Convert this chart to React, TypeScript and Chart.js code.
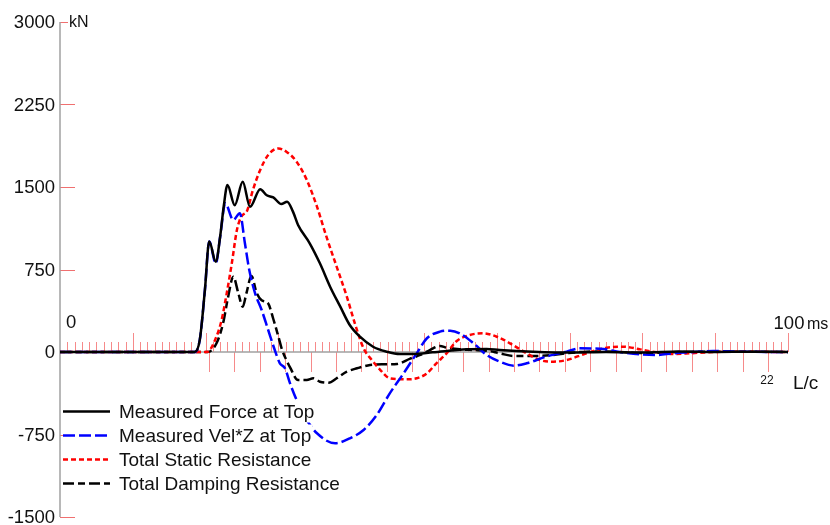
import { useEffect, useRef } from "react";
import { Chart, registerables } from "chart.js";

Chart.register(...registerables);

// ---- data (time in ms, force in kN) ----
const forceT = [0, 18.5, 19.2, 19.9, 20.5, 21.4, 22.0, 22.5, 23.0, 24.0, 25.1, 26.1, 27.5, 28.4, 29.3, 30.4, 31.2, 32.0, 32.7, 34.3, 35.7, 37.1, 38.5, 39.8, 41.2, 43.0, 44.9, 46.7, 48.5, 51.2, 55.9, 58.6, 60.4, 65.0, 70, 75, 80, 85, 90, 95, 100];
const forceV = [0, 0, 110, 560, 1005, 820, 1050, 1330, 1518, 1335, 1548, 1320, 1480, 1425, 1405, 1345, 1367, 1276, 1155, 988, 806, 594, 412, 245, 139, 48, 3, -18, -18, -3, 24, 27, 18, 3, -5, 0, -5, 5, 0, 3, 0];

const velT = [0, 18.5, 19.2, 19.9, 20.5, 21.4, 22.0, 22.7, 23.8, 24.7, 25.4, 26.0, 26.8, 27.7, 28.6, 29.5, 30.2, 30.9, 31.6, 32.5, 33.9, 35.3, 37.8, 39.8, 41.7, 43.5, 45.3, 47.2, 49.0, 50.4, 52.2, 53.6, 54.9, 56.8, 58.6, 60.4, 62.3, 64.1, 66.8, 69.6, 71.4, 74.2, 76.9, 79.7, 82.0, 84.2, 86.5, 89.7, 93.4, 100];
const velV = [0, 0, 110, 560, 1005, 806, 1048, 1352, 1200, 1261, 988, 745, 533, 382, 200, 18, -103, -148, -285, -436, -618, -739, -830, -785, -709, -573, -376, -194, -12, 125, 185, 194, 170, 79, -27, -88, -124, -103, -42, 3, 33, 30, 0, -21, -27, -12, -3, 9, 3, 0];

const staticT = [0, 20.2, 21.3, 22.2, 22.9, 23.6, 24.3, 24.9, 25.7, 26.5, 27.5, 28.6, 30.0, 31.1, 32.5, 33.9, 35.3, 36.6, 38.0, 39.4, 40.5, 41.7, 42.8, 44.0, 45.3, 47.6, 49.0, 50.4, 51.7, 53.1, 54.5, 56.3, 58.1, 60.0, 61.8, 64.1, 65.9, 67.8, 69.6, 72.3, 75.1, 77.4, 79.7, 81.9, 84.2, 86.5, 88.8, 91.5, 100];
const staticV = [0, 0, 109, 291, 533, 806, 1109, 1230, 1285, 1473, 1655, 1791, 1850, 1821, 1730, 1564, 1321, 1048, 776, 503, 261, 33, -70, -164, -239, -248, -239, -194, -103, -12, 100, 155, 170, 139, 79, -12, -73, -88, -73, -12, 39, 48, 24, -3, -18, -12, -3, 3, 0];

const dampT = [0, 20.3, 21.5, 22.4, 23.1, 23.8, 24.5, 25.1, 25.6, 26.3, 27.0, 27.7, 28.6, 29.3, 30.0, 30.5, 31.1, 31.6, 32.7, 33.9, 34.8, 35.7, 36.9, 38.0, 39.4, 40.8, 42.6, 44.4, 46.3, 48.1, 49.5, 50.8, 52.2, 53.1, 54.9, 56.8, 58.6, 60.4, 62.3, 65.0, 67.8, 69.6, 72.3, 75, 80, 85, 90, 100];
const dampV = [0, 0, 79, 261, 503, 685, 533, 412, 533, 690, 540, 470, 440, 300, 140, 20, -73, -140, -255, -255, -239, -270, -279, -239, -179, -148, -118, -112, -109, -60, -27, 18, 55, 40, 24, 18, 12, -12, -36, -36, -27, -12, 3, 5, -9, 0, 3, 0];

const seriesNames = ["Measured Force at Top", "Measured Vel*Z at Top", "Total Static Resistance", "Total Damping Resistance"];

const yTicks = [3000, 2250, 1500, 750, 0, -750, -1500];
const yTickLabels = ["3000", "2250", "1500", "750", "0", "-750", "-1500"];
const xMin = 0;
const xMax = 100;
const yMin = -1500;
const yMax = 3000;
const msTickStep = 1;
const msMajorStep = 10;
const lcStart = 20.47;
const lcStep = 3.49;
const lcLast = 22;

const FONT = "'Liberation Sans', Arial, sans-serif";

function pts(t: number[], v: number[]) {
  return t.map((x, i) => ({ x, y: v[i] }));
}

const decor = {
  id: "decor",
  beforeDatasetsDraw(chart: any) {
    const ctx = chart.ctx as CanvasRenderingContext2D;
    const xs = chart.scales.x;
    const ys = chart.scales.y;
    const x0 = xs.getPixelForValue(xMin);
    const y0 = ys.getPixelForValue(0);
    ctx.save();
    // ms ticks above the axis
    ctx.strokeStyle = "rgba(240,60,60,0.6)";
    ctx.lineWidth = 1;
    for (let ms = msTickStep; ms <= xMax; ms += msTickStep) {
      const x = Math.round(xs.getPixelForValue(ms)) + 0.5;
      const len = ms % msMajorStep === 0 ? 19 : 10;
      ctx.beginPath();
      ctx.moveTo(x, y0);
      ctx.lineTo(x, y0 - len);
      ctx.stroke();
    }
    // L/c ticks below the axis
    for (let k = 0; k <= lcLast; k++) {
      const x = Math.round(xs.getPixelForValue(lcStart + k * lcStep)) + 0.5;
      ctx.beginPath();
      ctx.moveTo(x, y0);
      ctx.lineTo(x, y0 + 20);
      ctx.stroke();
    }
    // y ticks
    ctx.strokeStyle = "#f07070";
    ctx.lineWidth = 1;
    yTicks.forEach((v) => {
      if (v === 0) return;
      const y = Math.round(ys.getPixelForValue(v)) + 0.5;
      ctx.beginPath();
      ctx.moveTo(x0, y);
      ctx.lineTo(x0 + 15, y);
      ctx.stroke();
    });
    // axes lines
    ctx.strokeStyle = "#a0a0a0";
    ctx.lineWidth = 1.5;
    ctx.beginPath();
    ctx.moveTo(x0, ys.getPixelForValue(yMax));
    ctx.lineTo(x0, ys.getPixelForValue(yMin));
    ctx.stroke();
    ctx.beginPath();
    ctx.moveTo(x0, y0);
    ctx.lineTo(xs.getPixelForValue(xMax), y0);
    ctx.stroke();

    // y labels
    ctx.fillStyle = "#111";
    ctx.font = `18.5px ${FONT}`;
    ctx.textAlign = "right";
    ctx.textBaseline = "middle";
    yTicks.forEach((v, i) => {
      ctx.fillText(yTickLabels[i], x0 - 5, ys.getPixelForValue(v) + 1);
    });
    // kN unit
    ctx.font = `16px ${FONT}`;
    ctx.textAlign = "left";
    const yTop = ys.getPixelForValue(yMax);
    const kw = ctx.measureText("kN").width;
    ctx.fillStyle = "#fff";
    ctx.fillRect(x0 + 8, yTop - 9, kw + 2, 18);
    ctx.fillStyle = "#111";
    ctx.fillText("kN", x0 + 9, yTop + 1);
    // 0 ms label
    ctx.font = `18.5px ${FONT}`;
    ctx.fillText("0", x0 + 6, y0 - 29);
    // 100 ms label
    const xEnd = xs.getPixelForValue(xMax);
    ctx.textAlign = "center";
    ctx.textBaseline = "alphabetic";
    ctx.fillText("100", xEnd + 1, y0 - 23.5);
    ctx.textAlign = "left";
    ctx.font = `16px ${FONT}`;
    ctx.fillText("ms", xEnd + 19, y0 - 23.5);
    // L/c labels
    const xl = xs.getPixelForValue(lcStart + lcLast * lcStep);
    ctx.font = `12px ${FONT}`;
    ctx.textAlign = "center";
    ctx.textBaseline = "middle";
    ctx.fillText(String(lcLast), xl - 1, y0 + 29);
    ctx.font = `19px ${FONT}`;
    ctx.textAlign = "left";
    ctx.fillText("L/c", xEnd + 5, y0 + 32);
    ctx.restore();
  },
  afterDatasetsDraw(chart: any) {
    const ctx = chart.ctx as CanvasRenderingContext2D;
    ctx.save();
    ctx.font = `19px ${FONT}`;
    ctx.textBaseline = "middle";
    ctx.textAlign = "left";
    chart.data.datasets.forEach((ds: any, i: number) => {
      const y = 411.5 + i * 24;
      const w = ctx.measureText(ds.label).width;
      ctx.fillStyle = "#fff";
      ctx.fillRect(63, y - 11, 119 - 63 + w + 1, 22);
      ctx.strokeStyle = ds.borderColor;
      ctx.lineWidth = ds.borderWidth;
      ctx.setLineDash(ds.borderDash || []);
      ctx.beginPath();
      ctx.moveTo(63, y);
      ctx.lineTo(110, y);
      ctx.stroke();
      ctx.setLineDash([]);
      ctx.fillStyle = "#111";
      ctx.fillText(ds.label, 119, y + 1);
    });
    ctx.restore();
  },
};

export default function App() {
  const ref = useRef<HTMLCanvasElement | null>(null);
  useEffect(() => {
    if (!ref.current) return;
    const common = {
      pointRadius: 0,
      borderWidth: 2.5,
      fill: false,
      cubicInterpolationMode: "monotone" as const,
    };
    const chart = new Chart(ref.current, {
      type: "line",
      data: {
        datasets: [
          { ...common, label: seriesNames[0], data: pts(forceT, forceV), borderColor: "#000000", borderDash: [] },
          { ...common, label: seriesNames[1], data: pts(velT, velV), borderColor: "#0000ff", borderDash: [12, 4] },
          { ...common, label: seriesNames[2], data: pts(staticT, staticV), borderColor: "#ff0000", borderDash: [5, 3] },
          { ...common, label: seriesNames[3], data: pts(dampT, dampV), borderColor: "#000000", borderDash: [11, 4, 7, 4] },
        ],
      },
      options: {
        responsive: false,
        animation: false,
        layout: { padding: { left: 60, right: 42, top: 22, bottom: 8 } },
        scales: {
          x: { type: "linear", min: xMin, max: xMax, display: false },
          y: { type: "linear", min: yMin, max: yMax, display: false },
        },
        plugins: { legend: { display: false }, tooltip: { enabled: false } },
        events: [],
      },
      plugins: [decor],
    });
    return () => chart.destroy();
  }, []);
  return (
    <div style={{ position: "absolute", left: 0, top: 0, width: 830, height: 525, background: "#fff" }}>
      <canvas ref={ref} width={830} height={525} style={{ display: "block" }} />
    </div>
  );
}
